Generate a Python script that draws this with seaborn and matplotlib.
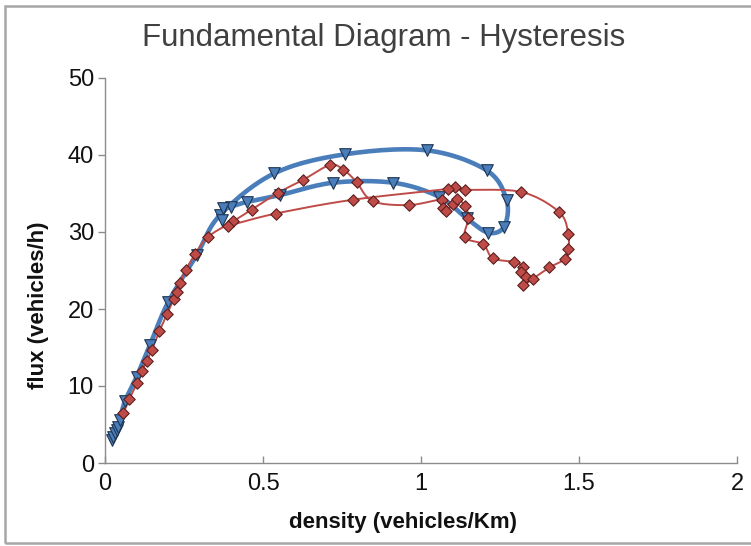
import numpy as np
import pandas as pd
import matplotlib
matplotlib.use("Agg")
import matplotlib.pyplot as plt
import seaborn as sns
from matplotlib.patches import Rectangle

title = "Fundamental Diagram - Hysteresis"
xlabel = "density (vehicles/Km)"
ylabel = "flux (vehicles/h)"
xticks = [0, 0.5, 1, 1.5, 2]
xticklabels = ["0", "0.5", "1", "1.5", "2"]
yticks = [0, 10, 20, 30, 40, 50]

blue_x = [0.021, 0.026, 0.032, 0.037, 0.042, 0.047, 0.063, 0.100, 0.142, 0.200, 0.290,
          0.364, 0.535, 0.761, 1.019, 1.208, 1.271, 1.263, 1.213, 1.144, 1.056, 0.912,
          0.722, 0.554, 0.448, 0.400, 0.374, 0.369]
blue_y = [3.0, 3.4, 3.9, 4.3, 4.7, 5.6, 8.0, 11.2, 15.3, 20.9, 27.0,
          32.2, 37.6, 40.1, 40.6, 38.0, 34.1, 30.7, 29.9, 31.8, 34.6, 36.4,
          36.4, 34.8, 33.9, 33.3, 33.1, 31.6]

red_x = [0.058, 0.077, 0.102, 0.118, 0.132, 0.148, 0.172, 0.197, 0.218, 0.227, 0.237, 0.256,
         0.285, 0.327, 0.406, 0.464, 0.548, 0.628, 0.712, 0.754, 0.796, 0.847, 0.963, 1.065,
         1.070, 1.080, 1.100, 1.113, 1.139, 1.150, 1.139, 1.197, 1.227, 1.295, 1.324, 1.318,
         1.332, 1.324, 1.353, 1.406, 1.456, 1.466, 1.466, 1.437, 1.318, 1.139, 1.108, 1.085,
         0.786, 0.541, 0.390]
red_y = [6.45, 8.3, 10.4, 12.0, 13.2, 14.7, 17.1, 19.4, 21.3, 22.2, 23.4, 25.1,
         27.1, 29.4, 31.4, 32.9, 35.1, 36.8, 38.7, 38.1, 36.5, 34.0, 33.5, 34.2,
         33.1, 32.7, 33.6, 34.3, 33.4, 31.8, 29.3, 28.4, 26.6, 26.1, 25.5, 24.8,
         24.1, 23.1, 23.9, 25.4, 26.5, 27.8, 29.8, 32.6, 35.2, 35.5, 35.9, 35.6,
         34.2, 32.4, 30.8]


def smooth(x, y, n=14):
    P = np.column_stack([x, y]).astype(float)
    ext = np.vstack([P[0], P, P[-1]])
    t = np.linspace(0, 1, n, endpoint=False)[:, None]
    out = []
    for i in range(1, len(ext) - 2):
        p0, p1, p2, p3 = ext[i - 1], ext[i], ext[i + 1], ext[i + 2]
        seg = 0.5 * (2 * p1 + (-p0 + p2) * t + (2 * p0 - 5 * p1 + 4 * p2 - p3) * t ** 2
                     + (-p0 + 3 * p1 - 3 * p2 + p3) * t ** 3)
        out.append(seg)
    out.append(P[-1:])
    return np.vstack(out)


sns.set_theme(style="white")
plt.rcParams['font.family'] = ['Liberation Sans', 'DejaVu Sans']

fig = plt.figure(figsize=(7.51, 5.46), dpi=100)
fig.patches.append(Rectangle((5 / 751, 3 / 546), 1.0, 537 / 546, transform=fig.transFigure,
                             fill=False, edgecolor="#a6a6a6", linewidth=1.8, clip_on=False))
ax = fig.add_axes([105 / 751, 83 / 546, 632 / 751, 385 / 546])

blue_col = "#4a7ebb"
red_col = "#be4b48"

bs = smooth(blue_x, blue_y)
sns.lineplot(x=bs[:, 0], y=bs[:, 1], sort=False, estimator=None, color=blue_col,
             linewidth=3.3, ax=ax)
rs = smooth(red_x, red_y, n=6)
sns.lineplot(x=rs[:, 0], y=rs[:, 1], sort=False, estimator=None, color=red_col,
             linewidth=1.4, ax=ax)

sns.scatterplot(x=blue_x, y=blue_y, marker="v", s=70, color=blue_col,
                edgecolor="#1f3552", linewidth=0.8, ax=ax, zorder=3)
sns.scatterplot(x=red_x, y=red_y, marker="D", s=34, color=red_col,
                edgecolor="#5a1f1d", linewidth=0.8, ax=ax, zorder=4)

ax.set_xlim(0, 2)
ax.set_ylim(0, 50)
ax.set_xticks(xticks)
ax.set_xticklabels(xticklabels)
ax.set_yticks(yticks)
for s in ["top", "right"]:
    ax.spines[s].set_visible(False)
for s in ["left", "bottom"]:
    ax.spines[s].set_color("#8c8c8c")
    ax.spines[s].set_linewidth(1.0)
ax.tick_params(axis="y", direction="out", length=5, color="#8c8c8c", width=1,
               labelsize=17, labelcolor="#111111", pad=3, left=True)
ax.tick_params(axis="x", direction="in", length=5, color="#8c8c8c", width=1,
               labelsize=17, labelcolor="#111111", pad=7, bottom=True)

ax.set_xlabel(xlabel, fontsize=16, fontweight="bold", color="#111111")
ax.set_ylabel(ylabel, fontsize=16, fontweight="bold", color="#111111")
ax.xaxis.set_label_coords(0.4715, -0.127)
ax.yaxis.set_label_coords(-0.088, 0.41)
fig.text(384 / 751, 1 - 38 / 546, title, ha="center", va="center", fontsize=22.5,
         color="#404040")

fig.savefig("out.png", dpi=100)
